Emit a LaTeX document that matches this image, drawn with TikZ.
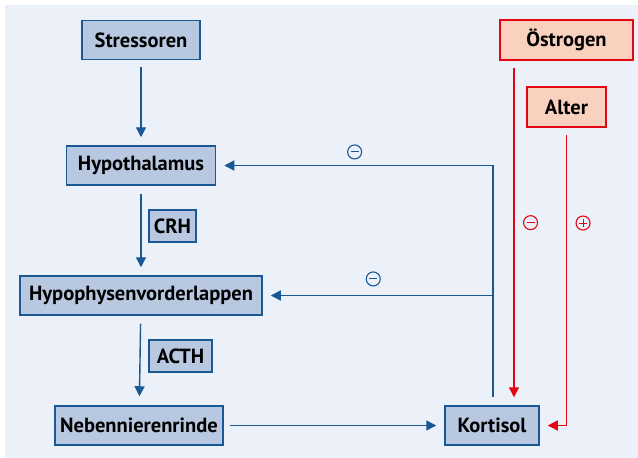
\documentclass[tikz,border=0pt]{standalone}
\usepackage{fontspec}
\setmainfont{PT Sans}
\usetikzlibrary{arrows.meta, positioning, calc}

\definecolor{bgblue}{RGB}{235,240,249}
\definecolor{boxblue}{RGB}{184,200,224}
\definecolor{lineblue}{RGB}{24,88,148}
\definecolor{signred}{RGB}{227,6,19}
\definecolor{peach}{RGB}{250,208,190}

\begin{document}
\begin{tikzpicture}[
    x=1pt, y=-1pt,
    font=\fontsize{20.5}{24}\selectfont\bfseries,
    box/.style={draw=lineblue, fill=boxblue, line width=1.5pt, minimum height=39pt, inner sep=2pt},
    redbox/.style={box, draw=signred, fill=peach},
    tag/.style={box, minimum height=32pt},
    arrow/.style={-{Triangle[length=10pt,width=10pt]}, lineblue, line width=1.4pt},
    redarrow/.style={arrow, signred},
    bar/.style={-, shorten <=0pt, shorten >=0pt, line width=1pt},
    sign/.style={circle, draw, line width=1.1pt, minimum size=14pt, inner sep=0pt},
    minus/.style={sign, path picture={\draw[bar] ([xshift=-4pt]path picture bounding box.center) -- ([xshift=4pt]path picture bounding box.center);}},
    plus/.style={sign, path picture={
        \draw[bar] ([xshift=-4pt]path picture bounding box.center) -- ([xshift=4pt]path picture bounding box.center);
        \draw[bar] ([yshift=-4pt]path picture bounding box.center) -- ([yshift=4pt]path picture bounding box.center);}}
]
    \useasboundingbox (0,0) rectangle (638,458);
    \fill[bgblue] (5,5) rectangle (638,458);

    % main chain
    \node (stress) [box, minimum width=118pt] at (141,40) {Stressoren};
    \node (hypo) [box, minimum width=149pt] at (141,165.5) {Hypothalamus};
    \node (hvl) [box, minimum width=242pt] at (141,295.5) {Hypophysenvorderlappen};
    \node (nnr) [box, minimum width=168pt] at (139,425.5) {Nebennierenrinde};
    \node (kort) [box, minimum width=94pt] at (492,425.5) {Kortisol};

    \node (crh) [tag, minimum width=47pt] at (172.5,226) {CRH};
    \node (acth) [tag, minimum width=63pt] at (180.5,356) {ACTH};

    % modulators
    \node (oestro) [redbox, minimum width=133pt, minimum height=40pt] at (566.5,40) {Östrogen};
    \node (alter) [redbox, minimum width=79pt, minimum height=40pt] at (566.5,107) {Alter};

    \draw[arrow, shorten <=7pt, shorten >=8pt] (stress) -- (hypo);
    \draw[arrow, shorten <=8pt, shorten >=8pt] (hypo) -- (hvl);
    \draw[arrow, shorten <=8pt, shorten >=9pt] (hvl) -- (nnr);
    \draw[arrow, shorten <=6pt, shorten >=8pt] (nnr) -- (kort);

    % negative feedback
    \draw[arrow, shorten <=8pt, shorten >=8pt] ([xshift=1pt]kort.north) -- ([xshift=1pt]kort.north |- hypo.east)
        -- node[minus, lineblue, above=6pt, pos=0.5] (fbA) {} (hypo.east);
    \draw[arrow, shorten >=8pt] ([xshift=1pt]kort.north |- hvl.east)
        -- node[minus, lineblue, above=9pt, pos=0.52] (fbB) {} (hvl.east);

    % Östrogen and Alter
    \draw[redarrow, shorten <=7pt, shorten >=8pt] ([xshift=-52.5pt]oestro.south)
        -- node[minus, signred, right=9pt, pos=0.47] (oeSign) {} ([xshift=-52.5pt]oestro.south |- kort.north);
    \draw[redarrow, shorten <=7pt, shorten >=8pt] (alter.south) -- node[plus, signred, right=9pt, pos=0.32] (alSign) {} (alter.south |- kort.east) -- (kort.east);
\end{tikzpicture}
\end{document}
